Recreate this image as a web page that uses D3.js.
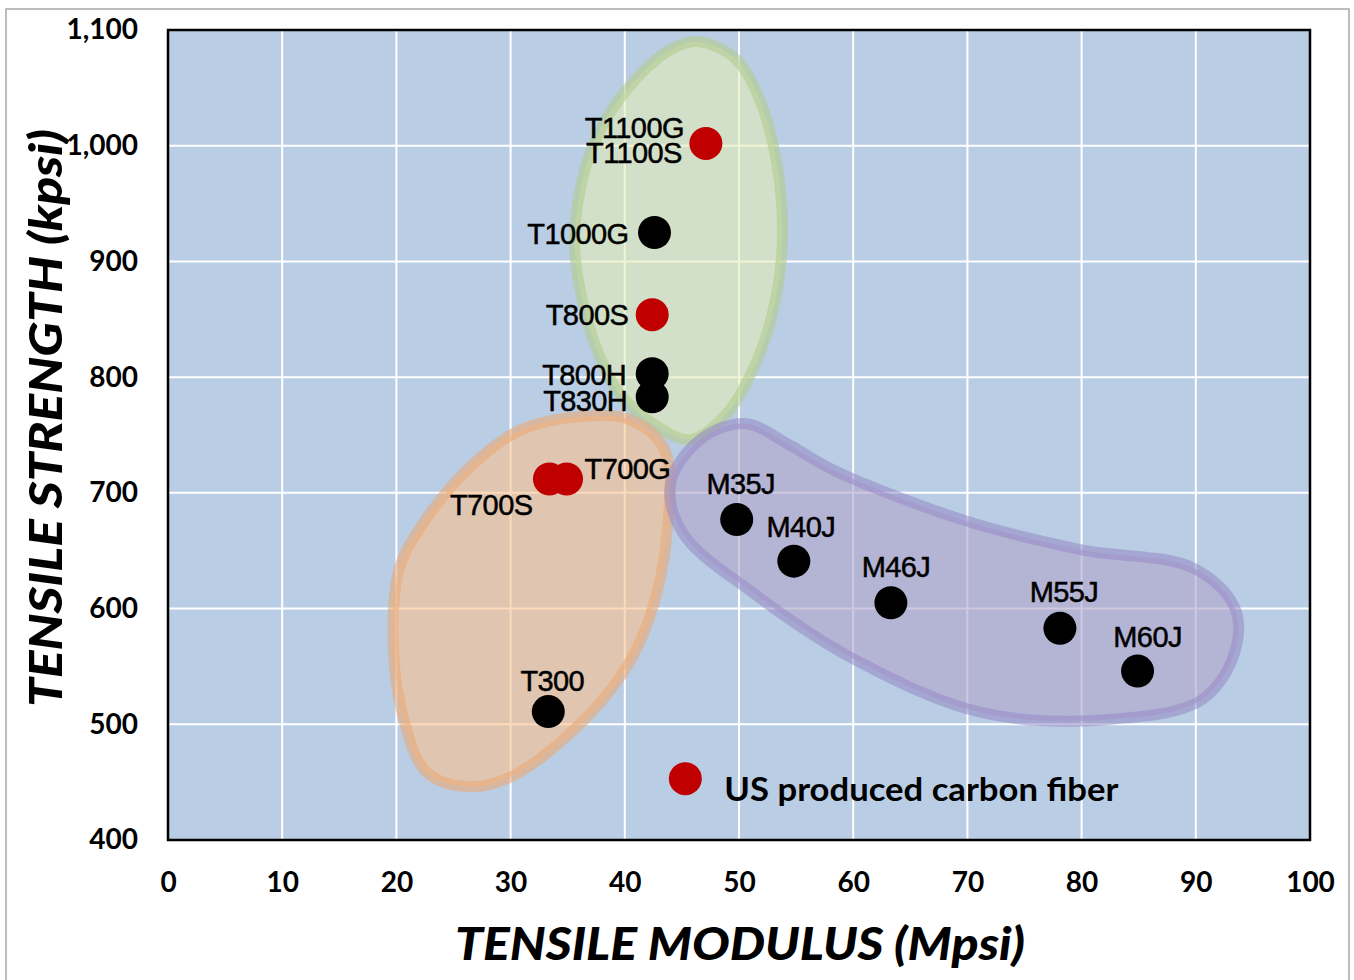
<!DOCTYPE html>
<html>
<head>
<meta charset="utf-8">
<script src="https://cdn.jsdelivr.net/npm/d3@7"></script>
<style>
  body { margin: 0; background: #fff; }
</style>
</head>
<body>
<svg id="chart" width="1354" height="980"></svg>
<script>
// fibers: name, modulus (Msi), strength (ksi), US produced?
var fiberNames = ["T1100G", "T1000G", "T800S", "T800H", "T830H", "T700S", "T700G", "T300",
                  "M35J", "M40J", "M46J", "M55J", "M60J"];
var fiberModulus = [47.1, 42.6, 42.4, 42.4, 42.4, 33.4, 34.9, 33.3, 49.8, 54.8, 63.3, 78.1, 84.9];
var fiberStrength = [1002, 925, 854, 803, 783, 712, 712, 511, 677, 641, 605, 583, 546];
var fiberUS = [true, false, true, false, false, true, true, false, false, false, false, false, false];

var xTicks = [0, 10, 20, 30, 40, 50, 60, 70, 80, 90, 100];
var yTicks = [400, 500, 600, 700, 800, 900, 1000, 1100];

// outlines of the three groups, in data units
var greenBlob = [[46.3,1090],[49.6,1076],[51.8,1040],[53.4,979],[53.8,918],[53.2,867],[51.6,815],
                 [48.8,767],[45.7,746],[42.6,759],[39.6,785],[37.6,823],[36.1,875],[35.6,918],
                 [36.5,979],[38.3,1022],[41.3,1061],[44.0,1083]];
var orangeBlob = [[36.3,766],[40.5,763],[43.5,737],[43.7,665],[42.2,593],[39.8,544],[35.2,492],
                  [29.9,454],[26.4,446],[22.7,458],[20.6,506],[19.7,579],[20.3,636],[22.1,670],
                  [26.4,722],[30.8,754]];
var purpleBlob = [[50.5,760],[54.5,741],[58.2,720],[69.8,676],[79.9,651],[89.8,635],[93.4,601],
                  [93.4,562],[90.5,521],[82.1,504],[71.3,510],[60.3,555],[51.3,613],[45.1,665],
                  [44.0,708],[46.6,746]];

var legendPoint = [45.3, 453];
var legendText = "US produced carbon fiber";

// label placement relative to the dot: [dx, dy, anchor]
var labelPlace = {
    "T1100G": [-22, -5, "end"], "T1100S": [-24, 20, "end"],
    "T1000G": [-26, 11, "end"], "T800S": [-24, 10, "end"],
    "T800H": [-26, 11, "end"], "T830H": [-25, 14, "end"],
    "T700G": [18, 0, "start"], "T700S": [-17, 36, "end"],
    "T300": [4, -21, "middle"],
    "M35J": [4, -25, "middle"], "M40J": [7, -24, "middle"], "M46J": [5, -26, "middle"],
    "M55J": [4, -26, "middle"], "M60J": [10, -24, "middle"]
};

var svg = d3.select("#chart");
var pLeft = 168, pRight = 1310, pTop = 30, pBottom = 840;

svg.append("rect")
    .attr("x", 6).attr("y", 9).attr("width", 1343).attr("height", 990)
    .attr("fill", "#fff").attr("stroke", "#a6a6a6").attr("stroke-width", 1.5);

var x = d3.scaleLinear().domain([0, 100]).range([pLeft, pRight]);
var y = d3.scaleLinear().domain([400, 1100]).range([pBottom, pTop]);

svg.append("rect")
    .attr("x", pLeft).attr("y", pTop)
    .attr("width", pRight - pLeft).attr("height", pBottom - pTop)
    .attr("fill", "#b9cde4");

// grid
svg.append("g").selectAll("line").data(xTicks.slice(1, -1)).enter().append("line")
    .attr("x1", d => x(d)).attr("x2", d => x(d))
    .attr("y1", pTop).attr("y2", pBottom)
    .attr("stroke", "#fff").attr("stroke-width", 2);
svg.append("g").selectAll("line").data(yTicks.slice(1, -1)).enter().append("line")
    .attr("x1", pLeft).attr("x2", pRight)
    .attr("y1", d => y(d)).attr("y2", d => y(d))
    .attr("stroke", "#fff").attr("stroke-width", 2);

// group outlines
var blobLine = d3.line()
    .x(d => x(d[0])).y(d => y(d[1]))
    .curve(d3.curveCatmullRomClosed.alpha(0.5));

var blobs = [
    { pts: greenBlob, fill: "rgba(228,237,183,0.6)", stroke: "rgba(178,204,140,0.6)" },
    { pts: orangeBlob, fill: "rgba(250,193,141,0.6)", stroke: "rgba(234,168,118,0.6)" },
    { pts: purpleBlob, fill: "rgba(177,163,201,0.6)", stroke: "rgba(150,136,196,0.55)" }
];
svg.append("g").selectAll("path").data(blobs).enter().append("path")
    .attr("d", d => blobLine(d.pts))
    .attr("fill", d => d.fill)
    .attr("stroke", d => d.stroke)
    .attr("stroke-width", 11)
    .attr("stroke-linejoin", "round");

// plot frame
svg.append("rect")
    .attr("x", pLeft).attr("y", pTop)
    .attr("width", pRight - pLeft).attr("height", pBottom - pTop)
    .attr("fill", "none").attr("stroke", "#000").attr("stroke-width", 2.5);

// axes
var yAxis = d3.axisLeft(y).tickValues(yTicks).tickFormat(d3.format(",")).tickSize(0).tickPadding(30);
var gy = svg.append("g").attr("transform", "translate(" + pLeft + ",0)").call(yAxis);
gy.select(".domain").remove();
gy.selectAll("text")
    .style("font-family", "Lato, sans-serif").style("font-weight", "bold")
    .style("font-size", "28px").attr("fill", "#000");

var xAxis = d3.axisBottom(x).tickValues(xTicks).tickSize(0).tickPadding(32);
var gx = svg.append("g").attr("transform", "translate(0," + pBottom + ")").call(xAxis);
gx.select(".domain").remove();
gx.selectAll("text")
    .style("font-family", "Lato, sans-serif").style("font-weight", "bold")
    .style("font-size", "28px").attr("fill", "#000");

// axis titles
svg.append("text")
    .attr("x", (pLeft + pRight) / 2 + 1).attr("y", 960)
    .attr("text-anchor", "middle")
    .attr("textLength", 570).attr("lengthAdjust", "spacingAndGlyphs")
    .style("font-family", "Lato, sans-serif").style("font-weight", "900")
    .style("font-style", "italic").style("font-size", "45px")
    .text("TENSILE MODULUS (Mpsi)");

svg.append("text")
    .attr("transform", "translate(62,418) rotate(-90)")
    .attr("text-anchor", "middle")
    .attr("textLength", 578).attr("lengthAdjust", "spacingAndGlyphs")
    .style("font-family", "Lato, sans-serif").style("font-weight", "900")
    .style("font-style", "italic").style("font-size", "45px")
    .text("TENSILE STRENGTH (kpsi)");

// dots
var fibers = fiberNames.map((n, i) => ({ name: n, mod: fiberModulus[i], str: fiberStrength[i], us: fiberUS[i] }));
svg.append("g").selectAll("circle").data(fibers).enter().append("circle")
    .attr("cx", d => x(d.mod)).attr("cy", d => y(d.str))
    .attr("r", 16.5)
    .attr("fill", d => d.us ? "#c00000" : "#000");

// labels (T1100 dot carries two names)
var labels = [];
fibers.forEach(function (d) {
    labels.push({ name: d.name, mod: d.mod, str: d.str });
    if (d.name === "T1100G") labels.push({ name: "T1100S", mod: d.mod, str: d.str });
});
svg.append("g").selectAll("text").data(labels).enter().append("text")
    .attr("x", d => x(d.mod) + labelPlace[d.name][0])
    .attr("y", d => y(d.str) + labelPlace[d.name][1])
    .attr("text-anchor", d => labelPlace[d.name][2])
    .style("font-family", "'Liberation Sans', Arial, sans-serif")
    .style("font-size", "29px").style("letter-spacing", "-0.6px")
    .attr("stroke", "#000").attr("stroke-width", 0.5)
    .text(d => d.name);

// legend
svg.append("circle")
    .attr("cx", x(legendPoint[0])).attr("cy", y(legendPoint[1]))
    .attr("r", 16.5).attr("fill", "#c00000");
svg.append("text")
    .attr("x", x(legendPoint[0]) + 39).attr("y", y(legendPoint[1]) + 22)
    .attr("textLength", 394).attr("lengthAdjust", "spacingAndGlyphs")
    .style("font-family", "Lato, sans-serif").style("font-weight", "bold")
    .style("font-size", "32px")
    .text(legendText);
</script>
</body>
</html>
